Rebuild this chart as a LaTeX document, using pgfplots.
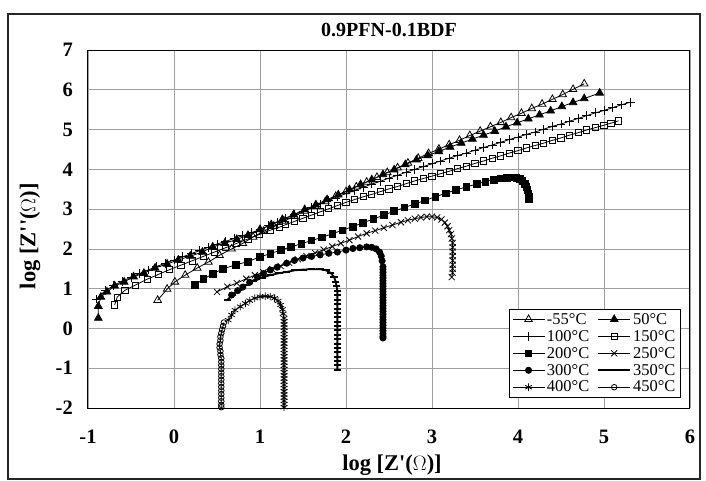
\documentclass[border=0pt]{standalone}
\usepackage{fontspec}
\setmainfont{Liberation Serif}
\usepackage{pgfplots}
\pgfplotsset{compat=1.18}

\pgfplotsset{
  every axis plot/.append style={black, line width=0.8pt},
  legend image code/.code={%
    \draw[mark repeat=2, mark phase=2, #1] plot coordinates {(0pt,0pt) (16pt,0pt) (32pt,0pt)};},
}

\begin{document}
\begin{tikzpicture}
\useasboundingbox (-88pt,-72pt) rectangle (618pt,408pt);
\begin{axis}[
  scale only axis,
  width=602pt, height=358pt,
  xmin=-1, xmax=6, ymin=-2, ymax=7,
  xtick={-1,0,...,6}, ytick={-2,-1,...,7},
  major tick length=0pt,
  grid=major,
  major grid style={gray!75, line width=0.6pt},
  axis line style={black, line width=1pt},
  /pgf/number format/assume math mode=true,
  tick label style={font=\fontsize{20.5}{23}\selectfont\bfseries},
  xticklabel style={anchor=center, yshift=-29pt},
  yticklabel style={anchor=east, inner sep=0pt, xshift=-15pt},
  xlabel={log [Z\textquotesingle($\Omega$)]},
  ylabel={log [Z\textquotesingle\textquotesingle($\Omega$)]},
  label style={font=\fontsize{22.5}{25}\selectfont\bfseries},
  xlabel style={at={(axis description cs:0.505,-0.159)}, anchor=center},
  ylabel style={at={(axis description cs:-0.0963,0.48)}, anchor=center},
  legend columns=2,
  legend cell align=left,
  legend style={at={(0.985,0.028)}, anchor=south east, draw=black, line width=1pt,
    fill=white, font=\fontsize{16.5}{19}\selectfont, inner xsep=3pt, inner ysep=2pt,
    row sep=0.5pt, /tikz/every even column/.append style={column sep=6pt}},
]

% -55 C
\addplot[mark=triangle, mark size=4.4pt, mark options={fill=white, line width=0.8pt}] coordinates {
(-0.19,0.71) (-0.08,0.99) (0.01,1.17) (0.13,1.34) (0.27,1.52) (0.40,1.67) (0.53,1.84)
(0.67,2.00) (0.80,2.14) (0.92,2.30) (1.04,2.44) (1.16,2.57) (1.28,2.70) (1.40,2.82)
(1.52,2.95) (1.64,3.07) (1.76,3.19) (1.88,3.32) (2.00,3.44) (2.12,3.56) (2.24,3.68)
(2.36,3.80) (2.48,3.92) (2.60,4.04) (2.72,4.16) (2.84,4.28) (2.96,4.40) (3.08,4.51)
(3.20,4.62) (3.32,4.73) (3.44,4.85) (3.56,4.96) (3.68,5.07) (3.80,5.18) (3.92,5.30)
(4.04,5.41) (4.16,5.53) (4.28,5.64) (4.40,5.76) (4.52,5.88) (4.64,6.01) (4.77,6.15)};
\addlegendentry{-55°C}

% 50 C
\addplot[mark=triangle*, mark size=4.4pt] coordinates {
(-0.88,0.26) (-0.88,0.56) (-0.85,0.79) (-0.78,0.92) (-0.69,1.07) (-0.58,1.17) (-0.47,1.30)
(-0.35,1.39) (-0.22,1.52) (-0.08,1.62) (0.05,1.72) (0.19,1.82) (0.33,1.92) (0.45,2.05)
(0.59,2.14) (0.73,2.24) (0.86,2.34) (1.00,2.49) (1.13,2.61) (1.26,2.74) (1.39,2.86)
(1.52,2.99) (1.65,3.11) (1.78,3.24) (1.91,3.36) (2.04,3.49) (2.17,3.62) (2.30,3.74)
(2.43,3.87) (2.56,3.99) (2.69,4.12) (2.82,4.24) (2.95,4.35) (3.08,4.45) (3.21,4.56)
(3.34,4.66) (3.47,4.76) (3.60,4.86) (3.73,4.96) (3.86,5.07) (3.99,5.17) (4.12,5.27)
(4.25,5.37) (4.38,5.47) (4.51,5.58) (4.64,5.68) (4.77,5.78) (4.95,5.92)};
\addlegendentry{50°C}

% 100 C
\addplot[mark=+, mark size=4.4pt, mark options={line width=0.9pt}] coordinates {
(-0.90,0.74) (-0.80,0.95) (-0.70,1.08) (-0.60,1.19) (-0.50,1.29) (-0.40,1.38) (-0.30,1.47)
(-0.20,1.56) (-0.10,1.64) (0.00,1.72) (0.10,1.80) (0.20,1.88) (0.30,1.96) (0.40,2.04)
(0.50,2.12) (0.60,2.19) (0.70,2.26) (0.80,2.33) (0.90,2.41) (1.00,2.48) (1.10,2.58)
(1.20,2.67) (1.30,2.77) (1.40,2.86) (1.50,2.95) (1.60,3.04) (1.70,3.13) (1.80,3.22)
(1.90,3.31) (2.00,3.39) (2.10,3.47) (2.20,3.55) (2.30,3.63) (2.40,3.70) (2.50,3.78)
(2.60,3.85) (2.70,3.93) (2.80,4.00) (2.90,4.07) (3.00,4.14) (3.10,4.21) (3.20,4.28)
(3.30,4.35) (3.40,4.41) (3.50,4.48) (3.60,4.55) (3.70,4.61) (3.80,4.68) (3.90,4.75)
(4.00,4.81) (4.10,4.88) (4.20,4.94) (4.30,5.01) (4.40,5.08) (4.50,5.14) (4.60,5.21)
(4.70,5.28) (4.80,5.35) (4.90,5.42) (5.00,5.48) (5.10,5.55) (5.20,5.62) (5.31,5.69)};
\addlegendentry{100°C}

% 150 C
\addplot[mark=square, mark size=3.1pt, mark options={fill=white, line width=0.8pt}] coordinates {
(-0.69,0.59) (-0.66,0.79) (-0.57,0.96) (-0.45,1.09) (-0.31,1.24) (-0.18,1.36) (-0.05,1.48)
(0.08,1.59) (0.21,1.70) (0.34,1.81) (0.47,1.92) (0.60,2.03) (0.73,2.14) (0.86,2.25)
(0.99,2.36) (1.12,2.47) (1.23,2.55) (1.30,2.61) (1.40,2.69) (1.50,2.77) (1.60,2.85)
(1.70,2.93) (1.80,3.01) (1.90,3.09) (2.00,3.17) (2.10,3.24) (2.20,3.31) (2.30,3.37)
(2.40,3.44) (2.50,3.51) (2.60,3.57) (2.70,3.64) (2.80,3.71) (2.90,3.77) (3.00,3.83)
(3.10,3.89) (3.20,3.95) (3.30,4.02) (3.40,4.08) (3.50,4.15) (3.60,4.21) (3.70,4.28)
(3.80,4.34) (3.90,4.41) (4.00,4.47) (4.10,4.54) (4.20,4.60) (4.30,4.66) (4.40,4.73)
(4.50,4.79) (4.60,4.86) (4.70,4.92) (4.80,4.99) (4.90,5.05) (5.00,5.11) (5.08,5.16)
(5.17,5.22)};
\addlegendentry{150°C}

% 200 C
\addplot[mark=square*, mark size=3.3pt] coordinates {
(0.24,1.09) (0.34,1.24) (0.45,1.37) (0.57,1.50) (0.72,1.60) (0.86,1.68) (1.00,1.80)
(1.12,1.88) (1.24,1.97) (1.36,2.05) (1.48,2.13) (1.60,2.21) (1.72,2.29) (1.84,2.38)
(1.96,2.47) (2.08,2.56) (2.20,2.66) (2.32,2.75) (2.44,2.85) (2.56,2.95) (2.68,3.04)
(2.80,3.13) (2.92,3.22) (3.04,3.31) (3.16,3.40) (3.28,3.48) (3.40,3.56) (3.52,3.63)
(3.62,3.69) (3.72,3.74) (3.80,3.77) (3.87,3.79) (3.93,3.80) (3.98,3.79) (4.02,3.76)
(4.05,3.71) (4.08,3.64) (4.10,3.56) (4.11,3.48) (4.12,3.40) (4.13,3.32) (4.13,3.24)};
\addlegendentry{200°C}

% 250 C
\addplot[mark=x, mark size=4.3pt, mark options={line width=0.8pt}] coordinates {
(0.50,0.92) (0.62,1.05) (0.73,1.14) (0.84,1.25) (0.94,1.34) (1.04,1.41) (1.14,1.49)
(1.24,1.57) (1.34,1.65) (1.44,1.74) (1.54,1.82) (1.64,1.90) (1.74,1.98) (1.84,2.06)
(1.94,2.14) (2.04,2.22) (2.14,2.31) (2.24,2.39) (2.34,2.46) (2.44,2.53) (2.54,2.60)
(2.64,2.67) (2.72,2.72) (2.80,2.76) (2.87,2.79) (2.94,2.81) (3.00,2.81) (3.06,2.79)
(3.11,2.74) (3.15,2.66) (3.18,2.57) (3.20,2.47) (3.22,2.37) (3.23,2.26) (3.24,2.15)
(3.24,2.04) (3.24,1.93) (3.24,1.82) (3.24,1.71) (3.24,1.60) (3.24,1.50) (3.24,1.40)
(3.23,1.29)};
\addlegendentry{250°C}

% 300 C
\addplot[mark=*, mark size=3.1pt] coordinates {
(0.67,0.84) (0.74,0.95) (0.80,1.04) (0.88,1.16) (0.97,1.29) (1.04,1.38) (1.12,1.47)
(1.20,1.54) (1.31,1.64) (1.40,1.71) (1.50,1.77) (1.60,1.81) (1.70,1.85) (1.80,1.89)
(1.90,1.92) (2.00,1.97) (2.08,2.01) (2.16,2.03) (2.24,2.05) (2.30,2.04) (2.35,2.00)
(2.39,1.92) (2.41,1.82) (2.42,1.70) (2.43,1.55) (2.43,1.48) (2.43,1.41) (2.43,1.34)
(2.43,1.27) (2.43,1.20) (2.43,1.13) (2.43,1.06) (2.43,0.99) (2.43,0.92) (2.43,0.85)
(2.43,0.78) (2.43,0.71) (2.43,0.64) (2.43,0.57) (2.43,0.50) (2.43,0.43) (2.43,0.36)
(2.43,0.29) (2.43,0.22) (2.43,0.15) (2.43,0.08) (2.43,0.01) (2.43,-0.06) (2.43,-0.13)
(2.43,-0.20) (2.43,-0.24)};
\addlegendentry{300°C}

% 350 C
\addplot[mark=-, mark size=3.8pt, mark options={line width=2pt}, line width=1.8pt] coordinates {
(0.62,0.72) (0.68,0.84) (0.75,0.96) (0.83,1.08) (0.92,1.20) (1.02,1.28) (1.12,1.34)
(1.22,1.39) (1.31,1.42) (1.40,1.46) (1.50,1.48) (1.60,1.49) (1.70,1.49) (1.77,1.46)
(1.82,1.40) (1.86,1.30) (1.88,1.18) (1.89,1.06) (1.90,0.94) (1.90,0.83) (1.90,0.72)
(1.90,0.61) (1.90,0.50) (1.90,0.39) (1.90,0.28) (1.90,0.17) (1.90,0.06) (1.90,-0.05)
(1.90,-0.16) (1.90,-0.27) (1.90,-0.38) (1.90,-0.49) (1.90,-0.60) (1.90,-0.71)
(1.90,-0.82) (1.90,-0.93) (1.90,-1.04)};
\addlegendentry{350°C}

% 400 C
\addplot[mark=asterisk, mark size=3.8pt, mark options={line width=0.8pt}] coordinates {
(0.63,0.21) (0.67,0.34) (0.71,0.46) (0.77,0.55) (0.83,0.63) (0.88,0.70) (0.94,0.76)
(1.00,0.80) (1.06,0.81) (1.12,0.80) (1.17,0.76) (1.21,0.69) (1.24,0.59) (1.26,0.48)
(1.27,0.37) (1.28,0.26) (1.28,0.18) (1.28,0.10) (1.28,0.02) (1.28,-0.06) (1.28,-0.14)
(1.28,-0.22) (1.28,-0.30) (1.28,-0.38) (1.28,-0.46) (1.28,-0.54) (1.28,-0.62)
(1.28,-0.70) (1.28,-0.78) (1.28,-0.86) (1.28,-0.94) (1.28,-1.02) (1.28,-1.10)
(1.28,-1.18) (1.28,-1.26) (1.28,-1.34) (1.28,-1.42) (1.28,-1.50) (1.28,-1.58)
(1.28,-1.66) (1.28,-1.74) (1.28,-1.82) (1.28,-1.90) (1.28,-1.98)};
\addlegendentry{400°C}

% 450 C
\addplot[mark=o, mark size=2.8pt, mark options={fill=white, line width=0.8pt}] coordinates {
(0.58,0.15) (0.57,0.06) (0.56,-0.03) (0.55,-0.12) (0.54,-0.21) (0.54,-0.30) (0.53,-0.39)
(0.53,-0.48) (0.54,-0.57) (0.54,-0.66) (0.55,-0.75) (0.55,-0.84) (0.55,-0.93)
(0.55,-1.02) (0.55,-1.11) (0.55,-1.20) (0.55,-1.29) (0.55,-1.38) (0.55,-1.47)
(0.55,-1.56) (0.55,-1.65) (0.55,-1.74) (0.55,-1.83) (0.55,-1.92) (0.55,-1.98)};
\addlegendentry{450°C}

\end{axis}
% chart title and outer frame
\node[font=\fontsize{20}{23}\selectfont\bfseries, anchor=center] at (301pt,378pt) {0.9PFN-0.1BDF};
\draw[line width=1.2pt, black!85] (-80pt,-71pt) rectangle (612pt,394pt);
\end{tikzpicture}
\end{document}
